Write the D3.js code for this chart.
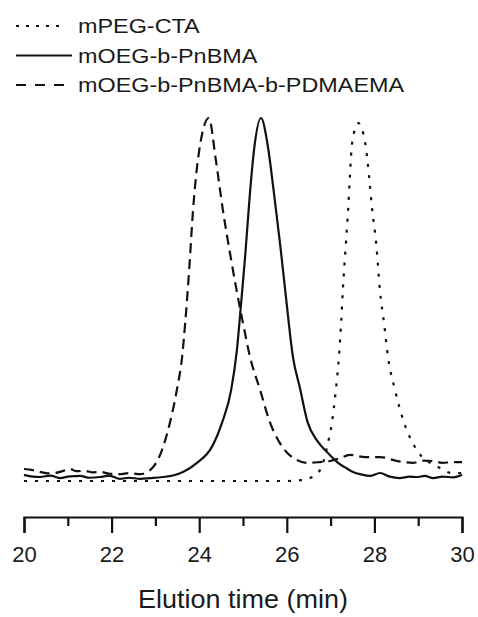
<!DOCTYPE html>
<html>
<meta charset="utf-8">
<head>
  <title>GPC traces</title>
</head>

<style>
body { margin: 0; background: #fff; }
text { font-family: "Liberation Sans", Arial, sans-serif; fill: #1a1a1a; }
.trace { fill: none; stroke: #111; stroke-width: 2.2; }
.axis path, .axis line { stroke: #111; stroke-width: 2.2; }
</style>

<body>
  <div id="content">
    <svg width="478" height="617">
    </svg>
  </div>

<script src="https://d3js.org/d3.v7.min.js"></script>
  <script>
var width = 478, height = 617

// series names, as in the legend
var seriesNames = ['mPEG-CTA', 'mOEG-b-PnBMA', 'mOEG-b-PnBMA-b-PDMAEMA']

// mPEG-CTA (dotted)
var peg_t = [20, 21, 22, 23, 24, 25, 26, 26.3, 26.48, 26.76, 26.94, 27.03, 27.12, 27.19, 27.24, 27.28,
  27.35, 27.40, 27.44, 27.49, 27.63, 27.79, 27.88, 27.95, 28.04, 28.13, 28.22, 28.31, 28.47, 28.68,
  28.97, 29.45, 29.77, 30]
var peg_v = [0, 0, 0, 0, 0, 0, 0, 0.002, 0.006, 0.03, 0.105, 0.16, 0.251, 0.342, 0.435, 0.526,
  0.656, 0.747, 0.837, 0.931, 0.986, 0.931, 0.837, 0.747, 0.656, 0.521, 0.435, 0.342, 0.251, 0.16,
  0.085, 0.039, 0.022, 0.022]

// mOEG-b-PnBMA (solid)
var bma_t = [20, 20.2, 20.37, 20.6, 20.82, 21.05, 21.28, 21.5, 21.74, 21.95, 22.19, 22.4, 22.65, 22.88,
  23.17, 23.4, 23.63, 23.95, 24.29, 24.52, 24.73, 24.86, 24.95, 25.05, 25.15, 25.25, 25.41, 25.57,
  25.7, 25.85, 25.98, 26.14, 26.3, 26.48, 26.7, 26.94, 27.17, 27.35, 27.51, 27.7, 27.9, 28.13, 28.35,
  28.58, 28.8, 28.97, 29.15, 29.34, 29.55, 29.8, 30]
var bma_v = [0.017, 0.012, 0.011, 0.015, 0.008, 0.013, 0.014, 0.009, 0.011, 0.015, 0.006, 0.009, 0.006,
  0.008, 0.011, 0.015, 0.025, 0.05, 0.094, 0.16, 0.251, 0.36, 0.48, 0.62, 0.78, 0.91, 1.0, 0.92,
  0.8, 0.65, 0.507, 0.342, 0.256, 0.16, 0.11, 0.077, 0.05, 0.036, 0.025, 0.018, 0.014, 0.022, 0.012,
  0.008, 0.012, 0.011, 0.014, 0.008, 0.012, 0.01, 0.017]

// mOEG-b-PnBMA-b-PDMAEMA (dashed)
var dma_t = [20, 20.2, 20.37, 20.55, 20.71, 20.9, 21.05, 21.2, 21.39, 21.55, 21.74, 21.95, 22.19, 22.4,
  22.65, 22.88, 23.15, 23.33, 23.49, 23.61, 23.68, 23.77, 23.86, 23.97, 24.22, 24.38, 24.54, 24.73,
  24.86, 25.0, 25.16, 25.39, 25.62, 25.84, 26.03, 26.23, 26.48, 26.75, 26.99, 27.2, 27.44, 27.79,
  28.13, 28.52, 28.88, 29.1, 29.34, 29.55, 29.79, 30]
var dma_v = [0.033, 0.03, 0.025, 0.021, 0.022, 0.028, 0.033, 0.027, 0.028, 0.024, 0.025, 0.02, 0.019,
  0.022, 0.019, 0.03, 0.085, 0.16, 0.251, 0.342, 0.435, 0.58, 0.747, 0.884, 1.0, 0.884, 0.747, 0.609,
  0.521, 0.435, 0.342, 0.251, 0.16, 0.105, 0.075, 0.058, 0.05, 0.052, 0.055, 0.062, 0.072, 0.066,
  0.066, 0.055, 0.05, 0.056, 0.055, 0.05, 0.052, 0.052]

// x axis ticks
var majorTicks = [20, 22, 24, 26, 28, 30]
var minorTicks = [21, 23, 25, 27, 29]
var xTitle = 'Elution time (min)'

var series = [
  {name: seriesNames[0], t: peg_t, v: peg_v, dash: '3,8'},
  {name: seriesNames[1], t: bma_t, v: bma_v, dash: null},
  {name: seriesNames[2], t: dma_t, v: dma_v, dash: '10,6'}
]

var svg = d3.select('svg')

var x = d3.scaleLinear().domain([20, 30]).range([24, 462])
var y = d3.scaleLinear().domain([0, 1]).range([481, 118])

var line = d3.line()
  .x(function(d) { return x(d[0]) })
  .y(function(d) { return y(d[1]) })
  .curve(d3.curveMonotoneX)

svg.selectAll('path.trace')
  .data(series)
  .enter()
  .append('path')
  .attr('class', 'trace')
  .attr('stroke-dasharray', function(d) { return d.dash })
  .attr('d', function(d) {
    return line(d.t.map(function(t, i) { return [t, d.v[i]] }))
  })

// axis: major ticks with end caps, then minor ticks
var axisY = 517
svg.append('g')
  .attr('class', 'axis')
  .attr('transform', 'translate(0,' + axisY + ')')
  .call(d3.axisBottom(x).tickValues(majorTicks).tickSize(16).tickSizeOuter(16).tickPadding(13))
  .call(function(g) {
    g.selectAll('text').attr('font-size', 22).attr('fill', '#1a1a1a')
      .attr('font-family', '"Liberation Sans", Arial, sans-serif')
  })

svg.append('g')
  .attr('class', 'axis')
  .attr('transform', 'translate(0,' + axisY + ')')
  .call(d3.axisBottom(x).tickValues(minorTicks).tickSize(9).tickFormat(''))
  .call(function(g) { g.select('.domain').remove() })

svg.append('text')
  .attr('transform', 'translate(243,608) scale(1.08,1)')
  .attr('text-anchor', 'middle')
  .attr('font-size', 25)
  .text(xTitle)

// legend
var legend = svg.selectAll('g.legend')
  .data(series)
  .enter()
  .append('g')
  .attr('class', 'legend')
  .attr('transform', function(d, i) { return 'translate(0,' + (26 + i * 29.5) + ')' })

legend.append('line')
  .attr('class', 'trace')
  .attr('x1', 16).attr('x2', function(d) { return d.dash ? 64 : 72 })
  .attr('stroke-dasharray', function(d) { return d.dash ? (d.dash === '3,8' ? '3,7' : '10,9') : null })

legend.append('text')
  .attr('transform', 'translate(78,7) scale(1.17,1)')
  .attr('font-size', 20)
  .text(function(d) { return d.name })
  </script>
</body>
</html>
